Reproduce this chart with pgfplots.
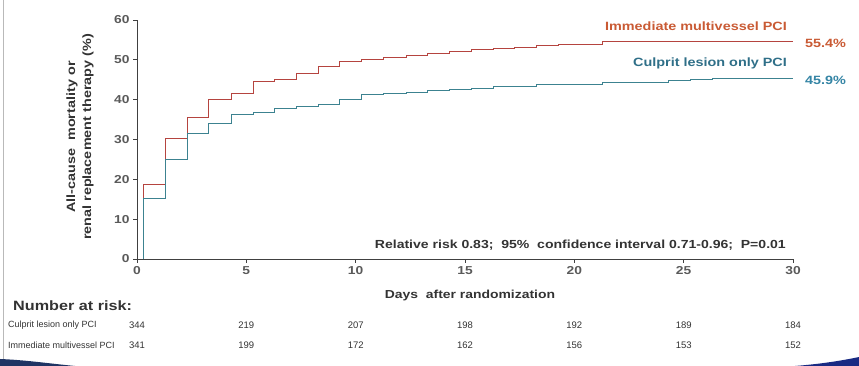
\documentclass[border=0pt]{standalone}
\usepackage{pgfplots}
\pgfplotsset{compat=1.18}
\usepackage{fontspec}
\setmainfont{Liberation Sans}[FakeStretch=1.2]
\newfontfamily\plainfont{Liberation Sans}
\definecolor{redline}{HTML}{B5443F}
\definecolor{blueline}{HTML}{3C8290}
\definecolor{redtext}{HTML}{C95A34}
\definecolor{bluetext}{HTML}{2F6F88}
\definecolor{bluepct}{HTML}{3585A5}
\definecolor{axisgray}{HTML}{404040}
\definecolor{tickgray}{HTML}{5A5A5A}
\definecolor{labelgray}{HTML}{333333}
\definecolor{navy}{HTML}{1F3464}
\begin{document}
\begin{tikzpicture}
\path[use as bounding box] (0pt,0pt) rectangle (859pt,366pt);
\begin{axis}[
  at={(137pt,107pt)}, anchor=south west,
  scale only axis, width=656pt, height=239pt,
  xmin=0, xmax=30, ymin=0, ymax=60,
  axis lines=left,
  axis line style={draw=axisgray, line width=0.9pt, -},
  xtick={0,5,...,30}, ytick={0,10,...,60},
  tick align=outside, major tick length=4pt,
  tick style={draw=axisgray, line width=0.8pt},
  tick label style={font=\fontsize{11.5}{13}\selectfont\bfseries, text=tickgray},
  /pgf/number format/assume math mode=true,
  clip=false,
]
\addplot[const plot, redline, line width=1pt] coordinates {
(0.29,0) (0.29,18.7) (1.31,30.3) (2.29,35.5) (3.29,40.0) (4.30,41.6)
(5.32,44.6) (6.31,45.0) (7.30,46.6) (8.29,48.4) (9.28,49.6) (10.27,50.1)
(11.26,50.5) (12.33,51.2) (13.30,51.7) (14.28,52.1) (15.30,52.6) (16.30,52.9)
(17.28,53.2) (18.28,53.5) (19.27,53.8) (21.30,54.5) (22.30,54.7) (30,54.7)
};
\addplot[const plot, blueline, line width=1pt] coordinates {
(0.29,0) (0.29,15.1) (1.31,25.1) (2.29,31.6) (3.29,34.0) (4.30,36.4)
(5.32,36.7) (6.31,37.7) (7.30,38.2) (8.29,38.7) (9.28,40.0) (10.27,41.2)
(11.26,41.6) (12.33,41.9) (13.30,42.2) (14.28,42.5) (15.30,42.7) (16.30,43.3)
(18.28,43.7) (19.27,43.9) (21.30,44.2) (24.30,44.8) (25.30,45.1) (26.30,45.4) (30,45.4)
};
\end{axis}
% decorations
\draw[gray!55, line width=0.8pt] (3.5pt,6pt) -- (3.5pt,366pt);
\fill[navy] (0pt,0pt) -- (0pt,7pt) .. controls (25pt,6pt) and (45pt,3pt) .. (75pt,0pt) -- cycle;
\fill[navy!80!blue] (795pt,0pt) .. controls (820pt,2pt) and (840pt,5pt) .. (859pt,9pt) -- (859pt,0pt) -- cycle;
% series labels
\node[anchor=east, inner sep=0pt, font=\fontsize{12}{14}\selectfont\bfseries, text=redtext] at (787pt,340pt) {Immediate multivessel PCI};
\node[anchor=west, inner sep=0pt, font=\fontsize{12}{14}\selectfont\bfseries, text=redtext] at (805pt,323pt) {55.4\%};
\node[anchor=east, inner sep=0pt, font=\fontsize{12}{14}\selectfont\bfseries, text=bluetext] at (787pt,303pt) {Culprit lesion only PCI};
\node[anchor=west, inner sep=0pt, font=\fontsize{12}{14}\selectfont\bfseries, text=bluepct] at (805pt,286pt) {45.9\%};
% statistics
\node[anchor=east, inner sep=0pt, font=\fontsize{11.7}{14}\selectfont\bfseries, text=labelgray] at (786pt,121pt) {Relative risk 0.83;\ \ 95\%\ \ confidence interval 0.71-0.96;\ \ P=0.01};
% axis labels
\node[inner sep=0pt, font=\fontsize{11.6}{14}\selectfont\bfseries, text=labelgray] at (470pt,70pt) {Days\ \ after randomization};
\node[rotate=90, align=center, inner sep=0pt, font=\fontsize{12}{16}\selectfont\bfseries, text=labelgray] at (80pt,229pt) {All-cause\ \ mortality or\\renal replacement therapy (\%)};
% number at risk
\node[anchor=west, inner sep=0pt, font=\fontsize{13.5}{15}\selectfont\bfseries, text=labelgray] at (13pt,60pt) {Number at risk:};
\node[anchor=west, inner sep=0pt, font=\plainfont\fontsize{9}{11}\selectfont, text=labelgray] at (8pt,41pt) {Culprit lesion only PCI};
\node[anchor=west, inner sep=0pt, font=\plainfont\fontsize{9}{11}\selectfont, text=labelgray] at (8pt,21pt) {Immediate multivessel PCI};
\foreach \x/\a/\b in {137/344/341, 246.3/219/199, 355.7/207/172, 465/198/162, 574.3/192/156, 683.7/189/153, 793/184/152} {
  \node[inner sep=0pt, font=\plainfont\fontsize{9.5}{11}\selectfont, text=labelgray] at (\x pt,41pt) {\a};
  \node[inner sep=0pt, font=\plainfont\fontsize{9.5}{11}\selectfont, text=labelgray] at (\x pt,21pt) {\b};
}
\end{tikzpicture}
\end{document}
